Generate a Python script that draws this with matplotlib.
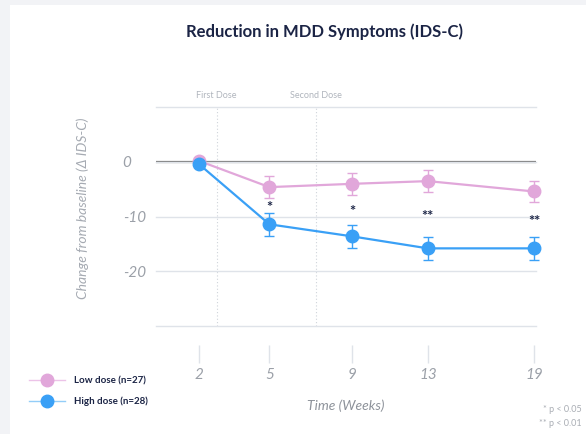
import numpy as np
import matplotlib
matplotlib.use("Agg")
import matplotlib.pyplot as plt
from matplotlib.lines import Line2D
from matplotlib.patches import Rectangle

plt.rcParams['font.family'] = ['Lato', 'DejaVu Sans']

# =========================
# Data
# =========================
weeks = [2, 5, 9, 13, 19]
low_dose = [0.2, -4.6, -4.0, -3.5, -5.4]
low_err = [0.0, 2.0, 2.0, 2.0, 2.0]
high_dose = [-0.4, -11.4, -13.6, -15.8, -15.8]
high_err = [0.0, 2.1, 2.1, 2.1, 2.1]
signif = ["", "*", "*", "**", "**"]
dose_weeks = [2.7, 7.2]
dose_labels = ["First Dose", "Second Dose"]
series_labels = ["Low dose (n=27)", "High dose (n=28)"]

PINK = "#e1a7da"
BLUE = "#3aa0f6"
NAVY = "#1b2445"
GREY_TXT = "#9ba0a8"
GRID = "#dfe3e9"

fig = plt.figure(figsize=(5.86, 4.34), dpi=100)
fig.patch.set_facecolor("#f2f3f6")
fig.patches.append(Rectangle((10 / 586, 0), 1, 1 - 5 / 434, transform=fig.transFigure,
                             facecolor="white", edgecolor="none", zorder=-10))

ax = fig.add_axes([156 / 586, 108 / 434, 380 / 586, 218.7 / 434])
ax.set_facecolor("none")

# time axis is drawn on a compressed (power) scale
p = 0.82
ax.set_xscale("function", functions=(lambda w: np.sign(w) * np.abs(w) ** p,
                                     lambda t: np.sign(t) * np.abs(t) ** (1 / p)))
ax.set_xlim(0.49, 19.1)
ax.set_ylim(-30, 10)

# grid
ax.set_yticks([10, 0, -10, -20, -30])
ax.set_yticklabels(["", "0", "-10", "-20", ""])
ax.yaxis.grid(True, color=GRID, linewidth=1)
for gl in ax.get_ygridlines():
    gl.set_clip_on(False)
ax.axhline(0, color="#777777", linewidth=1.6, zorder=1)

for sp in ax.spines.values():
    sp.set_visible(False)

# dose markers
for dw, dl in zip(dose_weeks, dose_labels):
    ax.axvline(dw, color="#cfd4da", linewidth=0.8, linestyle=(0, (1, 2)), zorder=0)
    ax.annotate(dl, xy=(dw, 1), xycoords=("data", "axes fraction"),
                xytext=(0, 5), textcoords="offset points", ha="center", va="bottom",
                fontsize=6.5, color="#b0b5bd")

# series
ax.errorbar(weeks, low_dose, yerr=low_err, color=PINK, marker="o", markersize=9,
            linewidth=1.6, elinewidth=1, capsize=3.5, capthick=1, zorder=3, clip_on=False)
ax.errorbar(weeks, high_dose, yerr=high_err, color=BLUE, marker="o", markersize=9,
            linewidth=1.6, elinewidth=1, capsize=3.5, capthick=1, zorder=4, clip_on=False)

# significance stars midway between the two series
for w, lo, hi, s in zip(weeks, low_dose, high_dose, signif):
    if s:
        ax.text(w, (lo + hi) / 2 - 0.4, s, ha="center", va="center", fontsize=10.5,
                fontweight="bold", color=NAVY, zorder=5)

# ticks
ax.set_xticks(weeks)
ax.set_xticklabels([str(w) for w in weeks])
ax.xaxis.set_minor_locator(matplotlib.ticker.NullLocator())
ax.spines["bottom"].set_position(("outward", 13.5))
ax.tick_params(axis="x", length=13, width=1, color=GRID, pad=4,
               labelsize=11, labelcolor=GREY_TXT)
ax.tick_params(axis="y", length=0, pad=24, labelsize=11, labelcolor=GREY_TXT)
for lab in ax.get_xticklabels() + ax.get_yticklabels():
    lab.set_fontstyle("italic")
for lab in ax.get_yticklabels():
    lab.set_horizontalalignment("left")

ax.set_xlabel("Time (Weeks)", fontsize=10, fontstyle="italic", color="#8d929a", labelpad=12)

fig.text(82.7 / 586, 1 - 208 / 434, "Change from baseline (\u0394 IDS-C)", rotation=90,
         ha="center", va="center", fontsize=10, fontstyle="italic", color="#a5aab2")

fig.text(325 / 586, 1 - 32 / 434, "Reduction in MDD Symptoms (IDS-C)", ha="center",
         va="center", fontsize=12, fontweight="bold", color=NAVY)

# legend
handles = [
    Line2D([], [], color="#ecc3e8", linewidth=1, marker="o", markersize=9,
           markerfacecolor=PINK, markeredgecolor=PINK),
    Line2D([], [], color="#93cdf8", linewidth=1, marker="o", markersize=9,
           markerfacecolor=BLUE, markeredgecolor=BLUE),
]
leg = fig.legend(handles, series_labels, loc="upper left",
                 bbox_to_anchor=(29 / 586, 1 - 376 / 434), frameon=False,
                 fontsize=7, handlelength=3.7, handletextpad=0.9, labelspacing=1.2,
                 borderpad=0, borderaxespad=0)
for t in leg.get_texts():
    t.set_color(NAVY)
    t.set_fontweight("bold")

fig.text(582 / 586, 1 - 410 / 434, "* p < 0.05", ha="right", va="center",
         fontsize=6.5, color="#a9adb4")
fig.text(582 / 586, 1 - 423 / 434, "** p < 0.01", ha="right", va="center",
         fontsize=6.5, color="#a9adb4")

fig.savefig("out.png", dpi=100, facecolor=fig.get_facecolor())
